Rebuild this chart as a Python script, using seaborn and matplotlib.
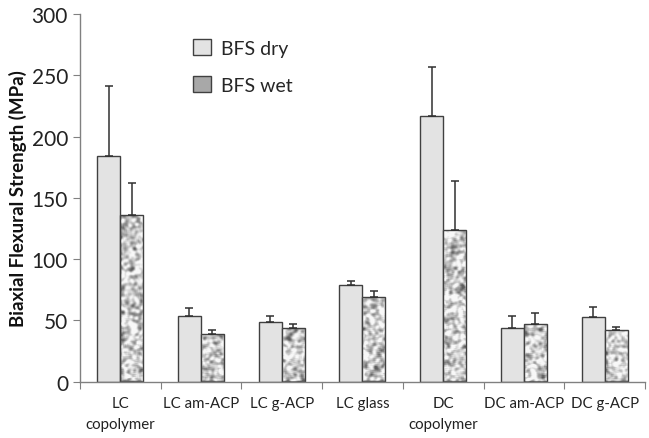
import numpy as np
import pandas as pd
import matplotlib
matplotlib.use('Agg')
import matplotlib.pyplot as plt
import seaborn as sns
from matplotlib.ticker import FixedLocator

# ---- data ----
groups = ['LC\ncopolymer', 'LC am-ACP', 'LC g-ACP', 'LC glass',
          'DC\ncopolymer', 'DC am-ACP', 'DC g-ACP']
bfs_dry = [184, 54, 49, 79, 217, 44, 53]
bfs_wet = [136, 39, 44, 69, 124, 47, 42]
err_dry = [57, 6, 5, 3, 40, 10, 8]
err_wet = [26, 3, 3, 5, 40, 9, 3]
series = ['BFS dry', 'BFS wet']

df = pd.DataFrame({
    'Group': groups * 2,
    'Series': [series[0]] * len(groups) + [series[1]] * len(groups),
    'BFS': bfs_dry + bfs_wet,
})

sns.set_style('white')
plt.rcParams['font.family'] = ['Lato', 'DejaVu Sans']

fig = plt.figure(figsize=(6.49, 4.39), dpi=100)
ax = fig.add_axes([0.123, 0.128, 0.871, 0.838])

sns.barplot(data=df, x='Group', y='BFS', hue='Series', hue_order=series,
            palette=['#e3e3e3', '#bdbdbd'], width=0.57, errorbar=None,
            edgecolor='#404040', linewidth=1.0, ax=ax)

n = len(groups)
dry_bars = ax.patches[:n]
wet_bars = ax.patches[n:2 * n]

# mottled texture for the wet bars (pixel-scale smoothed noise)
rng = np.random.default_rng(7)
tex = rng.random((370, 30 * n))
k = np.ones(3) / 3
for _ in range(2):
    tex = np.apply_along_axis(lambda r: np.convolve(r, k, mode='same'), 0, tex)
    tex = np.apply_along_axis(lambda r: np.convolve(r, k, mode='same'), 1, tex)
tex = (tex - tex.min()) / (tex.max() - tex.min())
tex = np.clip((tex - 0.5) * 2.2 + 0.5, 0, 1)
for i, b in enumerate(wet_bars):
    x0, w = b.get_x(), b.get_width()
    im = ax.imshow(tex[:, i * 30:i * 30 + 23], cmap='gray', vmin=-0.6,
                   vmax=1.05, aspect='auto', extent=[x0, x0 + w, 0, 300],
                   zorder=b.get_zorder() + 0.1, interpolation='bilinear')
    im.set_clip_path(b)
    b.set_facecolor('none')
    b.set_zorder(b.get_zorder() + 0.2)

# one-sided error bars
for bars, errs in [(dry_bars, err_dry), (wet_bars, err_wet)]:
    xs = [b.get_x() + b.get_width() / 2 for b in bars]
    ys = [b.get_height() for b in bars]
    ax.errorbar(xs, ys, yerr=[np.zeros(n), errs], fmt='none',
                ecolor='#303030', elinewidth=1.1, capsize=3, capthick=1.1,
                zorder=5)

ax.set_xlim(-0.5, n - 0.5)
ax.set_ylim(0, 300)
ax.set_yticks(range(0, 301, 50))
ax.xaxis.set_major_locator(FixedLocator(np.arange(-0.5, n, 1.0)))
ax.xaxis.set_minor_locator(FixedLocator(np.arange(n)))
ax.set_xticklabels([''] * (n + 1))
ax.set_xticklabels(groups, minor=True, fontsize=10.8, color='#222222',
                   linespacing=1.65)
ax.tick_params(axis='x', which='major', direction='out', length=5,
               color='#808080', bottom=True)
ax.tick_params(axis='x', which='minor', length=0, pad=10)
ax.tick_params(axis='y', direction='out', length=5, color='#808080',
               left=True, labelsize=15, labelcolor='#222222')
ax.set_xlabel('')
ax.set_ylabel('Biaxial Flexural Strength (MPa)', fontsize=13.5,
              fontweight='bold', color='#111111', labelpad=3)

sns.despine(ax=ax)
for s in ['left', 'bottom']:
    ax.spines[s].set_color('#808080')
    ax.spines[s].set_linewidth(1.0)

leg = ax.legend(loc='upper left', bbox_to_anchor=(0.17, 0.98), frameon=False,
                fontsize=14, handlelength=0.9, handleheight=0.9,
                labelspacing=1.0, handletextpad=0.5)
leg.get_patches()[1].set_facecolor('#a8a8a8')

fig.savefig('out.png', dpi=100)
